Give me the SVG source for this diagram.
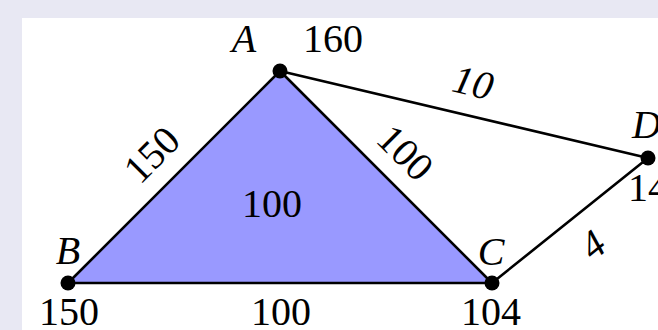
<svg xmlns="http://www.w3.org/2000/svg" width="658" height="330" viewBox="0 0 658 330">
<style>
.t{font-family:"Liberation Serif","DejaVu Serif",serif;font-size:40px;fill:#000;text-anchor:middle}
.i{font-style:italic}
.e{stroke:#000;stroke-width:2.6;fill:none;stroke-linejoin:round}
.n{fill:#000}
</style>
<rect width="658" height="330" fill="#e8e8f3"/>
<rect x="22" y="18" width="636" height="312" fill="#fff"/>
<g id="face">
<polygon points="280,71 68,283 492,283" fill="#9999ff"/>
<text class="t" x="272" y="217">100</text>
</g>
<g id="connectors">
<path class="e" d="M280,71 L68,283 L492,283 Z"/>
<path class="e" d="M280,71 L648,158 L492,283"/>
<text class="t" transform="translate(152,155) rotate(-45)" y="13">150</text>
<text class="t" transform="translate(405,153) rotate(45)" y="13">100</text>
<text class="t i" transform="translate(473,83) rotate(13.3)" y="13">10</text>
<text class="t i" transform="translate(593,245) rotate(-38.7)" y="13">4</text>
<text class="t" x="281" y="325">100</text>
</g>
<g id="A">
<circle class="n" cx="280" cy="71" r="7.5"/>
<text class="t i" x="244" y="52">A</text>
<text class="t" x="333" y="52">160</text>
</g>
<g id="B">
<circle class="n" cx="68" cy="283" r="7.5"/>
<text class="t i" x="68" y="264">B</text>
<text class="t" x="69" y="325">150</text>
</g>
<g id="C">
<circle class="n" cx="492" cy="283" r="7.5"/>
<text class="t i" x="491" y="265">C</text>
<text class="t" x="491" y="325">104</text>
</g>
<g id="D">
<circle class="n" cx="648" cy="158" r="7.5"/>
<text class="t i" x="632" y="138" style="text-anchor:start">D</text>
<text class="t" x="628" y="201" style="text-anchor:start">14</text>
</g>
</svg>
